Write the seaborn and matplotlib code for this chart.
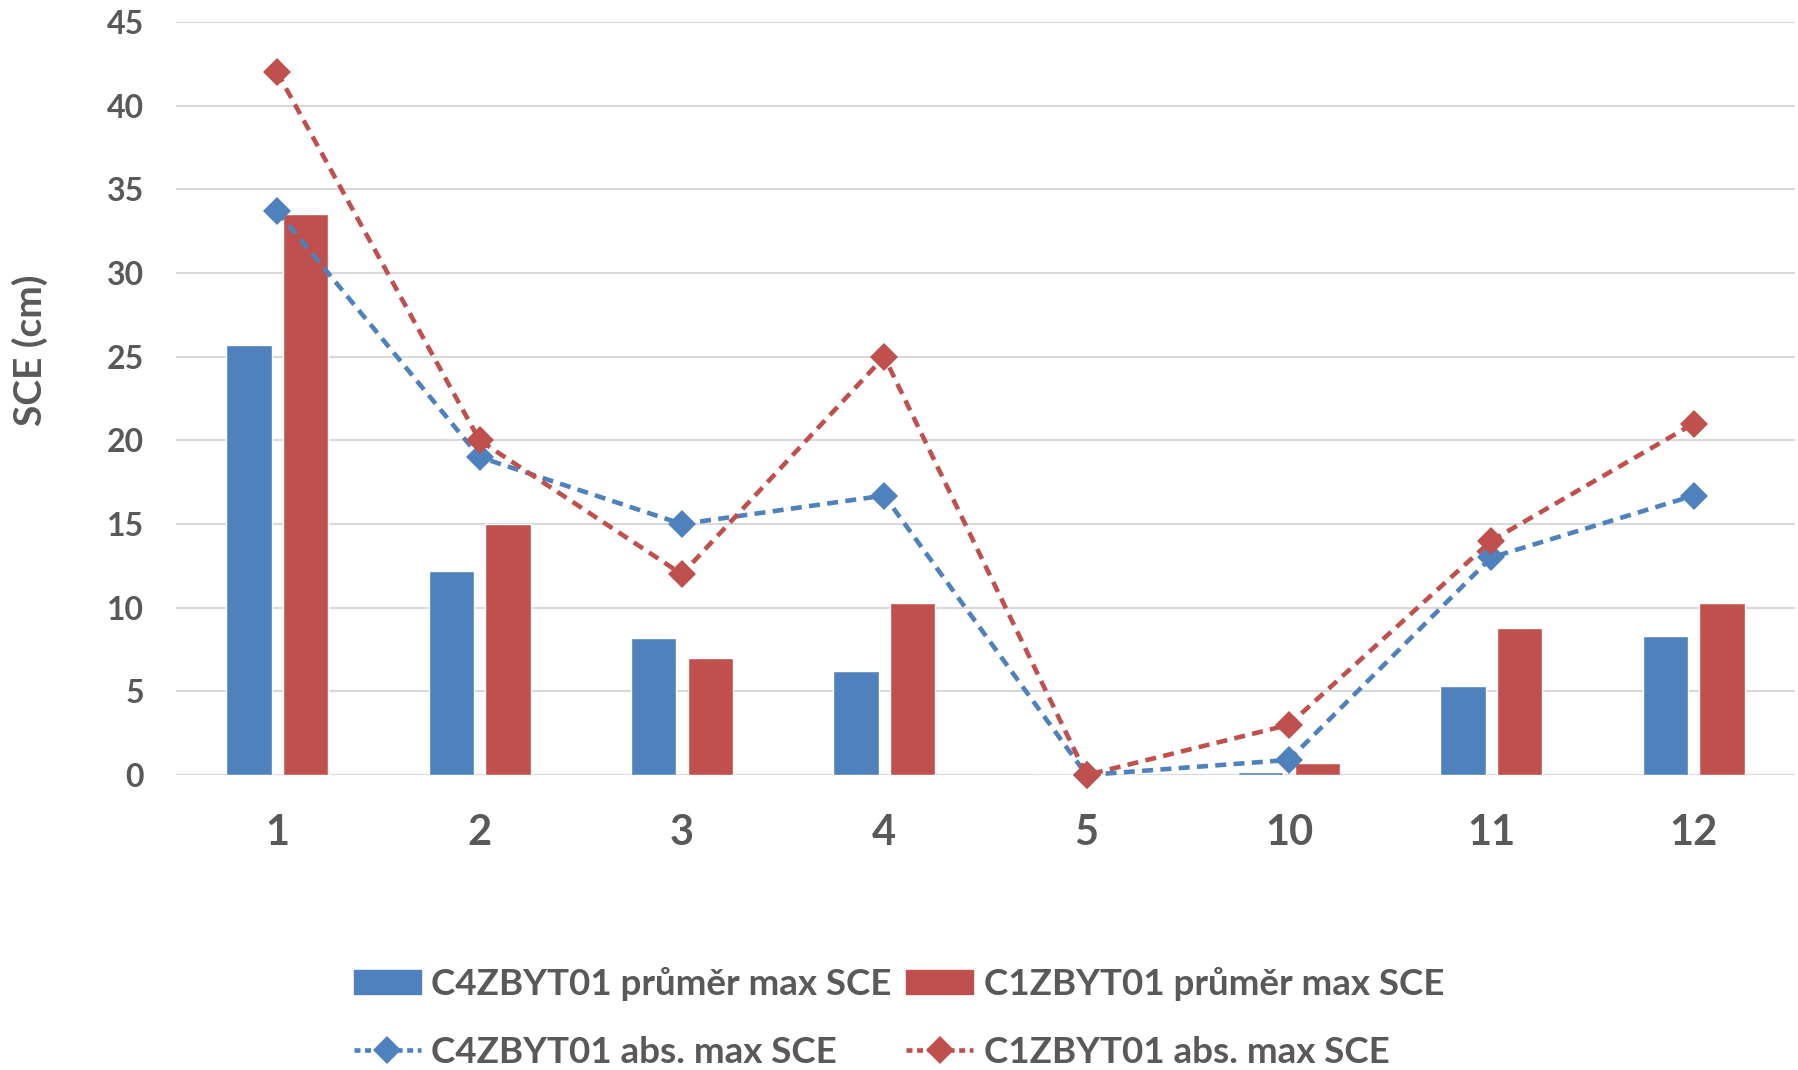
import numpy as np
import pandas as pd
import matplotlib
matplotlib.use('Agg')
import matplotlib.pyplot as plt
import seaborn as sns
from matplotlib.patches import Patch
from matplotlib.lines import Line2D

categories = ['1', '2', '3', '4', '5', '10', '11', '12']
c4_avg = [25.7, 12.2, 8.2, 6.2, 0.0, 0.2, 5.3, 8.3]
c1_avg = [33.5, 15.0, 7.0, 10.3, 0.0, 0.7, 8.8, 10.3]
c4_abs = [33.7, 19.0, 15.0, 16.7, 0.0, 0.9, 13.0, 16.7]
c1_abs = [42.0, 20.0, 12.0, 25.0, 0.0, 3.0, 14.0, 21.0]

names_avg = ['C4ZBYT01 průměr max SCE', 'C1ZBYT01 průměr max SCE']
names_abs = ['C4ZBYT01 abs. max SCE', 'C1ZBYT01 abs. max SCE']
BLUE = '#4F81BD'
RED = '#C0504D'
GREY = '#595959'

sns.set_theme(style='white')
plt.rcParams['font.family'] = ['Lato', 'DejaVu Sans']
plt.rcParams['font.weight'] = 'bold'

bars = pd.DataFrame({
    'cat': categories * 2,
    'val': c4_avg + c1_avg,
    'series': [names_avg[0]] * len(categories) + [names_avg[1]] * len(categories),
})

fig = plt.figure(figsize=(17.98, 10.70), dpi=100)
ax = fig.add_axes([0.0979, 0.2757, 0.9003, 0.7037])

sns.barplot(data=bars, x='cat', y='val', hue='series', order=categories,
            palette=[BLUE, RED], width=0.56, gap=0.2, saturation=1,
            legend=False, ax=ax, zorder=2)

# abs. max lines, dashed with diamonds
xs = np.arange(len(categories))
for vals, col in [(c4_abs, BLUE), (c1_abs, RED)]:
    sns.lineplot(x=xs, y=vals, ax=ax, color=col, lw=3.3, marker='D',
                 markersize=14, markeredgewidth=0, dashes=False,
                 clip_on=False, zorder=3)
for ln in ax.lines:
    ln.set_linestyle((0, (2.4, 1.6)))
    ln.set_dash_capstyle('butt')

ax.set_ylim(0, 45)
ax.set_xlim(-0.5, len(categories) - 0.5)
ax.set_yticks(np.arange(0, 46, 5))
ax.yaxis.grid(True, color='#D9D9D9', lw=1.5, zorder=0)
ax.set_axisbelow(True)
for s in ax.spines.values():
    s.set_visible(False)
ax.tick_params(axis='x', length=0, pad=28, labelsize=30, labelcolor=GREY)
ax.tick_params(axis='y', length=0, pad=23, labelsize=23, labelcolor=GREY)
ax.set_xlabel('')
ax.set_ylabel('SCE (cm)', fontsize=28, color=GREY, fontweight='bold')
ax.yaxis.set_label_coords(-0.079, 0.564)

handles = [
    Patch(color=BLUE, label=names_avg[0]),
    Line2D([], [], color=BLUE, lw=3.3, ls=(0, (1.3, 1.0)), marker='D', markersize=14, markeredgewidth=0, label=names_abs[0]),
    Patch(color=RED, label=names_avg[1]),
    Line2D([], [], color=RED, lw=3.3, ls=(0, (1.3, 1.0)), marker='D', markersize=14, markeredgewidth=0, label=names_abs[1]),
]
leg = fig.legend(handles=handles, ncol=2, loc='center', bbox_to_anchor=(0.5, 0.049),
                 frameon=False, fontsize=26.5, handlelength=1.82, handleheight=0.63,
                 handletextpad=0.28, columnspacing=0.4, labelspacing=0.95)
for t in leg.get_texts():
    t.set_color(GREY)

fig.savefig('out.png', dpi=100)
